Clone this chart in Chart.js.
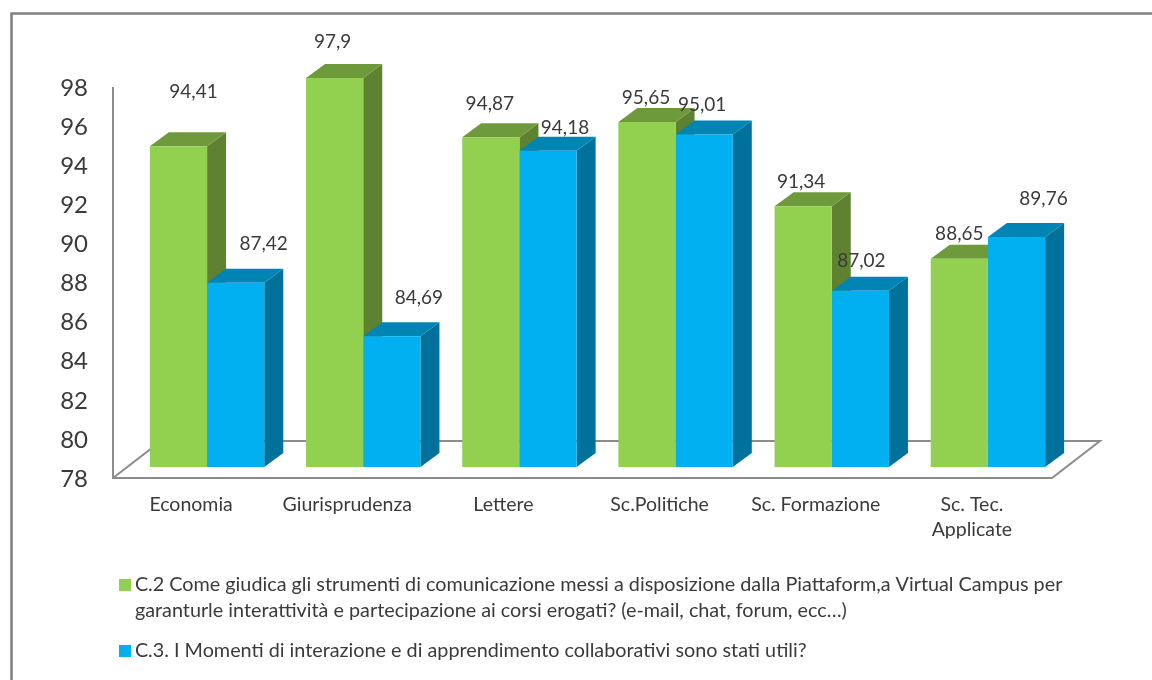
<!DOCTYPE html>
<html>
<head>
<meta charset="utf-8">
<style>
  html, body { margin: 0; padding: 0; background: #fff; overflow: hidden; }
  #wrap { width: 1152px; height: 680px; }
</style>
<script src="https://cdn.jsdelivr.net/npm/chart.js@4"></script>
</head>
<body>
<div id="wrap"><canvas id="myChart" width="1152" height="680"></canvas></div>
<script>
const categories = ["Economia", "Giurisprudenza", "Lettere", "Sc.Politiche", "Sc. Formazione", ["Sc. Tec.", "Applicate"]];
const c2Values = [94.41, 97.9, 94.87, 95.65, 91.34, 88.65];
const c3Values = [87.42, 84.69, 94.18, 95.01, 87.02, 89.76];
const c2Label = [
  "C.2 Come giudica gli strumenti di comunicazione messi a disposizione dalla Piattaform,a Virtual Campus per",
  "garanturle interattività e partecipazione ai corsi erogati? (e-mail, chat, forum, ecc…)",
];
const c3Label = "C.3. I Momenti di interazione e di apprendimento collaborativi sono stati utili?";

// where each value label sits relative to the top of its bar, as in the original
const c2LabelShift = [[15, -54], [-2, -36], [-1, -33], [-1, -24], [-2, -24], [0, -25]];
const c3LabelShift = [[28, -39], [27, -38], [17, -23], [-2, -30], [1, -30], [27, -38]];

const FONT = "Lato, 'Open Sans', sans-serif";
const TEXT = "#3a3a3a";
const AXIS = "#8c8c8c";
const GREEN = "#92d050";
const BLUE = "#00b0f0";
const DEPTH_X = 19;
const DEPTH_Y = 14;
const FLOOR_DROP = 11; // front of the floor sits below the bar bases
const FLOOR_X = 16;
const LEGEND_PADDING = 46;
const faces = [
  { top: "#6f9a3b", side: "#5f8232" },
  { top: "#0084b4", side: "#00719b" },
];

function poly(ctx, pts, color) {
  ctx.fillStyle = color;
  ctx.beginPath();
  pts.forEach((p, i) => (i ? ctx.lineTo(p[0], p[1]) : ctx.moveTo(p[0], p[1])));
  ctx.closePath();
  ctx.fill();
}

// legend swatch as an image, so the text can sit closer than the default gap
function swatch(color) {
  const c = document.createElement("canvas");
  c.width = 12;
  c.height = 12;
  const g = c.getContext("2d");
  g.fillStyle = color;
  g.fillRect(0, 0, 12, 12);
  return c;
}

const box3d = {
  id: "box3d",
  afterLayout(chart) {
    // legend sits under the axis, indented like the original
    chart.legend.left = 124 - LEGEND_PADDING;
    chart.legend.top = 575 - LEGEND_PADDING;
    chart.legend.right = chart.width;
    chart.legend.bottom = chart.height;
  },
  beforeDraw(chart) {
    const ctx = chart.ctx;
    ctx.save();
    ctx.fillStyle = "#fff";
    ctx.fillRect(0, 0, chart.width, chart.height);
    ctx.strokeStyle = "#808080";
    ctx.lineWidth = 2.5;
    ctx.strokeRect(11.5, 13.5, 1300, 800);
    ctx.restore();
  },
  beforeDatasetsDraw(chart) {
    const ctx = chart.ctx;
    const area = chart.chartArea;
    const y = chart.scales.y;
    const base = y.getPixelForValue(78);
    const left = area.left - FLOOR_X;
    const front = base + FLOOR_DROP;
    const top = y.getPixelForValue(98) + FLOOR_DROP;
    const right = 1052;
    const backY = 441;
    const slope = (front - backY) * (48 / 37);

    ctx.save();
    ctx.strokeStyle = AXIS;
    ctx.lineWidth = 2;
    ctx.beginPath();
    ctx.moveTo(left, top);
    ctx.lineTo(left, front);
    ctx.lineTo(right, front);
    ctx.lineTo(right + slope, backY);
    ctx.lineTo(left + slope, backY);
    ctx.lineTo(left, front);
    ctx.stroke();
    ctx.restore();

    chart.data.datasets.forEach((ds, d) => {
      chart.getDatasetMeta(d).data.forEach((bar) => {
        const x0 = bar.x - bar.width / 2;
        const x1 = bar.x + bar.width / 2;
        poly(ctx, [[x1, bar.y], [x1 + DEPTH_X, bar.y - DEPTH_Y], [x1 + DEPTH_X, base - DEPTH_Y], [x1, base]], faces[d].side);
        poly(ctx, [[x0, bar.y], [x0 + DEPTH_X, bar.y - DEPTH_Y], [x1 + DEPTH_X, bar.y - DEPTH_Y], [x1, bar.y]], faces[d].top);
      });
    });
  },
  afterDatasetsDraw(chart) {
    const ctx = chart.ctx;
    const shifts = [c2LabelShift, c3LabelShift];
    ctx.save();
    ctx.font = "19px " + FONT;
    ctx.fillStyle = TEXT;
    ctx.textAlign = "center";
    ctx.textBaseline = "middle";
    chart.data.datasets.forEach((ds, d) => {
      chart.getDatasetMeta(d).data.forEach((bar, i) => {
        const s = shifts[d][i];
        ctx.fillText(String(ds.data[i]).replace(".", ","), bar.x + s[0], bar.y + s[1]);
      });
    });
    ctx.restore();
  },
};

const swatches = [swatch(GREEN), swatch(BLUE)];

new Chart(document.getElementById("myChart"), {
  type: "bar",
  data: {
    labels: categories,
    datasets: [
      { label: c2Label, data: c2Values, backgroundColor: GREEN },
      { label: c3Label, data: c3Values, backgroundColor: BLUE },
    ],
  },
  plugins: [box3d],
  options: {
    responsive: false,
    animation: false,
    layout: { padding: { top: 76, right: 86, left: 0, bottom: 0 } },
    datasets: { bar: { categoryPercentage: 0.7325, barPercentage: 1 } },
    plugins: {
      tooltip: { enabled: false },
      legend: {
        position: "bottom",
        align: "start",
        labels: {
          usePointStyle: true,
          pointStyleWidth: 1,
          boxHeight: 12,
          padding: LEGEND_PADDING,
          color: TEXT,
          font: { family: FONT, size: 19.8, lineHeight: 1.31 },
          generateLabels(chart) {
            return Chart.defaults.plugins.legend.labels.generateLabels(chart).map((item, i) => {
              item.pointStyle = swatches[i];
              return item;
            });
          },
        },
      },
    },
    scales: {
      x: {
        grid: { display: false, drawTicks: false },
        border: { display: false },
        afterFit(s) { s.height = 213 - s.chart.legend.height; },
        ticks: {
          autoSkip: false,
          maxRotation: 0,
          padding: 25,
          labelOffset: -FLOOR_X,
          color: TEXT,
          font: { family: FONT, size: 19.5, lineHeight: 1.3 },
        },
      },
      y: {
        min: 78,
        max: 98,
        grid: { display: false, drawTicks: false },
        border: { display: false },
        afterFit(s) { s.width = 129; },
        ticks: {
          stepSize: 2,
          padding: 41,
          labelOffset: FLOOR_DROP + 1,
          color: TEXT,
          font: { family: FONT, size: 24 },
        },
      },
    },
  },
});
</script>
</body>
</html>
